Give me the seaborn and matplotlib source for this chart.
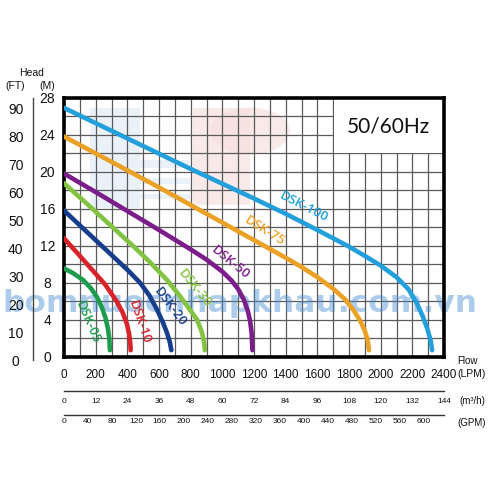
import matplotlib
matplotlib.use("Agg")
import matplotlib.pyplot as plt
from matplotlib.patches import Rectangle, Ellipse
import pandas as pd
import seaborn as sns

# ---------------- data ----------------
models = ["DSK-100", "DSK-75", "DSK-50", "DSK-30", "DSK-20", "DSK-10", "DSK-05"]
colors = ["#239fdb", "#eba125", "#7b1e8a", "#82c341", "#173e8c", "#d8232a", "#1e9c4e"]

dsk100_flow = [0, 200, 400, 600, 800, 1000, 1200, 1400, 1600, 1800, 1900, 2000,
               2100, 2175, 2225, 2265, 2295, 2315, 2325]
dsk100_head = [26.9, 25.25, 23.6, 21.95, 20.3, 18.7, 17.1, 15.45, 13.7, 11.9, 10.9, 9.85,
               8.6, 7.3, 5.9, 4.4, 3.0, 1.8, 0.7]
dsk75_flow = [0, 200, 400, 600, 800, 1000, 1200, 1400, 1500, 1600, 1700, 1775,
              1830, 1870, 1900, 1918, 1926]
dsk75_head = [23.8, 21.98, 20.15, 18.3, 16.4, 14.5, 12.6, 10.7, 9.7, 8.6, 7.35, 6.2,
              5.0, 3.9, 2.8, 1.8, 0.7]
dsk50_flow = [0, 200, 400, 600, 800, 900, 1000, 1060, 1100, 1135, 1160, 1175, 1185, 1190]
dsk50_head = [19.8, 17.8, 15.75, 13.7, 11.6, 10.5, 9.2, 8.2, 7.3, 6.2, 5.0, 3.9, 2.6, 0.7]
dsk30_flow = [0, 150, 300, 450, 550, 650, 730, 790, 840, 870, 885, 890]
dsk30_head = [18.75, 16.45, 14.1, 11.75, 10.1, 8.3, 6.6, 5.2, 4.0, 2.7, 1.6, 0.7]
dsk20_flow = [0, 100, 200, 300, 400, 480, 540, 590, 625, 650, 668, 678]
dsk20_head = [15.8, 14.2, 12.6, 11.0, 9.4, 8.0, 6.6, 5.0, 3.7, 2.6, 1.6, 0.7]
dsk10_flow = [0, 100, 185, 260, 332, 370, 398, 412, 419, 421]
dsk10_head = [12.8, 10.9, 9.25, 7.8, 6.0, 4.8, 3.5, 2.4, 1.4, 0.7]
dsk05_flow = [0, 60, 120, 170, 210, 240, 262, 278, 287, 290]
dsk05_head = [9.55, 9.0, 8.3, 7.4, 6.4, 5.3, 4.2, 3.0, 1.8, 0.7]

flows = [dsk100_flow, dsk75_flow, dsk50_flow, dsk30_flow, dsk20_flow, dsk10_flow, dsk05_flow]
heads = [dsk100_head, dsk75_head, dsk50_head, dsk30_head, dsk20_head, dsk10_head, dsk05_head]

# curve label placement (LPM, m, rotation in degrees)
label_x = [1512, 1268, 1052, 827, 668, 478, 148]
label_y = [16.25, 13.6, 10.2, 7.4, 5.4, 3.7, 3.7]
label_rot = [-27, -32, -39, -51, -53, -71, -67]

lpm_ticks = list(range(0, 2401, 200))
m_ticks = list(range(0, 29, 4))
ft_ticks = list(range(0, 91, 10))
m3h_ticks = list(range(0, 145, 12))
gpm_ticks = list(range(0, 601, 40))

# ---------------- style ----------------
sns.set_style("white")
plt.rcParams["font.family"] = ["Liberation Sans", "DejaVu Sans"]

W = 500.0
fig = plt.figure(figsize=(5, 5), dpi=100)
fig.patch.set_facecolor("white")

# main axes
x0, x1, ytop, ybot = 64, 444, 97.7, 356.7
ax = fig.add_axes([x0 / W, 1 - ybot / W, (x1 - x0) / W, (ybot - ytop) / W])

rows = []
for name, fl, hd in zip(models, flows, heads):
    for f, h in zip(fl, hd):
        rows.append({"model": name, "flow": f, "head": h})
df = pd.DataFrame(rows)

sns.lineplot(data=df, x="flow", y="head", hue="model", hue_order=models,
             palette=dict(zip(models, colors)), sort=False, estimator=None,
             errorbar=None, linewidth=3.3, legend=False, ax=ax,
             solid_capstyle="round", solid_joinstyle="round", zorder=3)

ax.set_xlim(0, 2400)
ax.set_ylim(0, 28)
ax.set_xticks(lpm_ticks)
ax.set_xticks(list(range(0, 2401, 100)), minor=True)
ax.set_yticks(m_ticks)
ax.set_yticks(list(range(0, 29, 2)), minor=True)
ax.set_axisbelow(True)
ax.grid(True, which="both", color="#5a5a5a", linewidth=0.9)
ax.tick_params(which="both", length=0)
ax.tick_params(axis="x", pad=9.0, labelsize=8.5, labelcolor="#111111")
ax.tick_params(axis="y", pad=12.0, labelsize=10, labelcolor="#111111")
for lbl in ax.get_yticklabels():
    lbl.set_horizontalalignment("center")
ax.set_xlabel("")
ax.set_ylabel("")
for sp in ax.spines.values():
    sp.set_visible(True)
    sp.set_color("black")
    sp.set_linewidth(2.6)

# faint logo watermark shapes (decoration)
def px2d(px, py):
    return (px - x0) / (x1 - x0) * 2400, (ybot - py) / (ybot - ytop) * 28

bx, by = px2d(90, 208)
bx2, by2 = px2d(140, 108)
ax.add_patch(Rectangle((bx, by), bx2 - bx, by2 - by, color="#dfe8f6", alpha=0.6, zorder=0.4, lw=0))
for (ya, yb) in [(160, 168), (178, 184), (194, 199)]:
    sx, sy = px2d(140, yb)
    sx2, sy2 = px2d(190, ya)
    ax.add_patch(Rectangle((sx, sy), sx2 - sx, sy2 - sy, color="#dfe8f6", alpha=0.6, zorder=0.4, lw=0))
px_, py_ = px2d(193, 205)
px2_, py2_ = px2d(250, 108)
ax.add_patch(Rectangle((px_, py_), px2_ - px_, py2_ - py_, color="#f6dcdc", alpha=0.6, zorder=0.4, lw=0))
ex, ey = px2d(250, 131)
ax.add_patch(Ellipse((ex, ey), 2 * 40 / 380 * 2400, 47 / 259 * 28, color="#f6dcdc", alpha=0.6, zorder=0.4, lw=0))

# white box with frequency
ax.add_patch(Rectangle((1705, 22.06), 700, 6.0, facecolor="white", edgecolor="none", zorder=1))
ax.text(2050, 24.9, "50/60Hz", ha="center", va="center", fontsize=15,
        family=["Lato", "DejaVu Sans"], color="#111111", zorder=4)

# curve labels
for name, c, lx, ly, r in zip(models, colors, label_x, label_y, label_rot):
    ax.text(lx, ly, name, rotation=r, rotation_mode="anchor", ha="center", va="center",
            color=c, fontsize=9.5, fontweight="semibold",
            family=["Open Sans", "DejaVu Sans"], zorder=4)

# website watermark
ax.text(240 / W, 1 - 304 / W, "bomnuocnhapkhau.com.vn", transform=fig.transFigure,
        ha="center", va="center", fontsize=22.5, fontweight="bold", color="#4a8fd6",
        alpha=0.45, family=["DejaVu Sans"], zorder=2, clip_on=False)

# FT axis
ft_top, ft_bot = 98, 360
axf = fig.add_axes([33.3 / W, 1 - ft_bot / W, 0.0001, (ft_bot - ft_top) / W])
axf.set_ylim(0, (ft_bot - ft_top) / 2.797)
axf.set_yticks(ft_ticks)
axf.set_xticks([])
axf.patch.set_visible(False)
for k, sp in axf.spines.items():
    sp.set_visible(k == "left")
axf.spines["left"].set_color("#444444")
axf.spines["left"].set_linewidth(1.0)
axf.tick_params(axis="y", length=4.3, width=1, color="#444444", pad=8.3,
                labelsize=10, labelcolor="#111111")
for lbl in axf.get_yticklabels():
    lbl.set_horizontalalignment("center")

# m3/h axis
axm = fig.add_axes([x0 / W, 1 - 390.7 / W, (x1 - x0) / W, 0.0001])
axm.set_xlim(0, 144)
axm.set_xticks(m3h_ticks)
axm.set_yticks([])
axm.patch.set_visible(False)
for k, sp in axm.spines.items():
    sp.set_visible(k == "bottom")
axm.spines["bottom"].set_color("#333333")
axm.spines["bottom"].set_linewidth(1.0)
axm.tick_params(axis="x", direction="inout", length=5, width=1, color="#333333",
                pad=3.0, labelsize=6, labelcolor="#111111")

# GPM axis
axg = fig.add_axes([x0 / W, 1 - 415 / W, (x1 - x0) / W, 0.0001])
axg.set_xlim(0, 2400 / 3.785)
axg.set_xticks(gpm_ticks)
axg.set_yticks([])
axg.patch.set_visible(False)
for k, sp in axg.spines.items():
    sp.set_visible(k == "bottom")
axg.spines["bottom"].set_color("#333333")
axg.spines["bottom"].set_linewidth(1.0)
axg.tick_params(axis="x", direction="in", length=3.5, width=1, color="#333333",
                pad=2.5, labelsize=6, labelcolor="#111111")

# axis titles / units
fig.text(467 / W, 1 - 361 / W, "Flow", ha="center", va="center", fontsize=7, color="#111111")
fig.text(472 / W, 1 - 374 / W, "(LPM)", ha="center", va="center", fontsize=7.5, color="#111111")
fig.text(472 / W, 1 - 401.5 / W, "(m\u00b3/h)", ha="center", va="center", fontsize=7, color="#111111")
fig.text(472 / W, 1 - 423 / W, "(GPM)", ha="center", va="center", fontsize=7, color="#111111")
fig.text(31.7 / W, 1 - 73.3 / W, "Head", ha="center", va="center", fontsize=7.5, color="#111111")
fig.text(15.3 / W, 1 - 85.7 / W, "(FT)", ha="center", va="center", fontsize=7.5, color="#111111")
fig.text(47.7 / W, 1 - 85.7 / W, "(M)", ha="center", va="center", fontsize=7.5, color="#111111")

fig.savefig("out.png", dpi=100, facecolor="white")
